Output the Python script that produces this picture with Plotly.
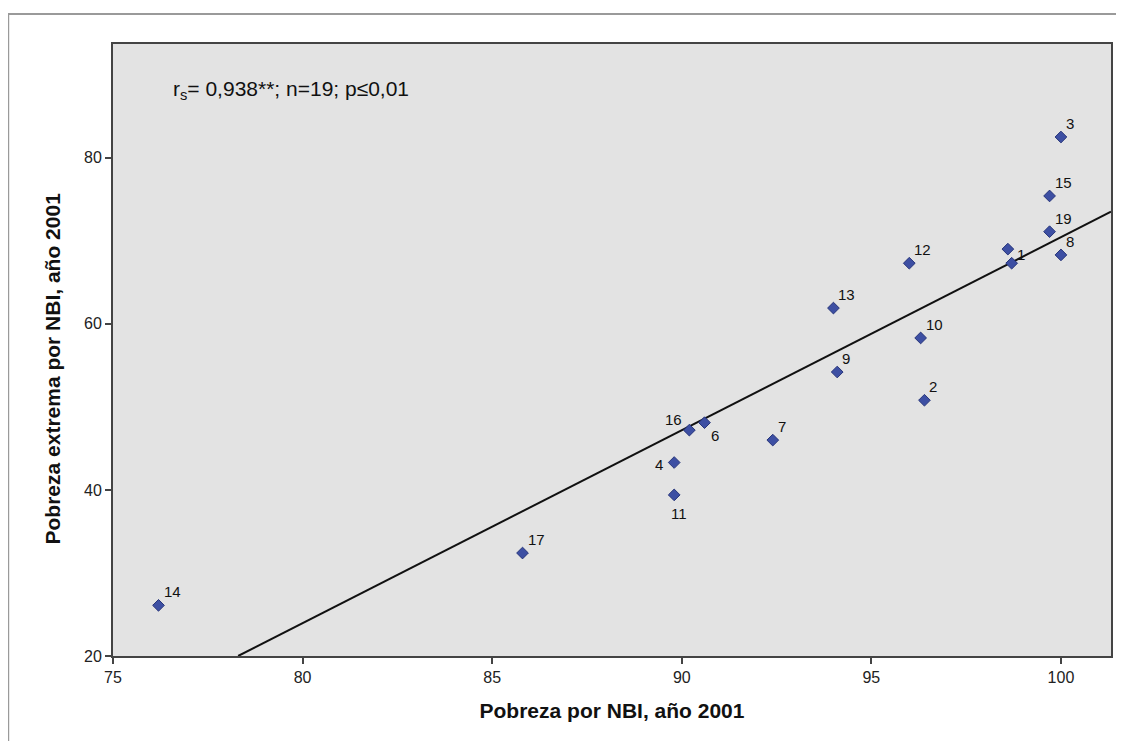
import plotly.graph_objects as go

# Data
ids = ["14", "17", "11", "4", "16", "6", "7", "9", "13", "12", "10", "2", "", "1", "19", "15", "3", "8"]
pobreza_nbi = [76.2, 85.8, 89.8, 89.8, 90.2, 90.6, 92.4, 94.1, 94.0, 96.0, 96.3, 96.4, 98.6, 98.7, 99.7, 99.7, 100.0, 100.0]
pobreza_extrema = [26.1, 32.4, 39.4, 43.3, 47.2, 48.1, 46.0, 54.2, 61.9, 67.3, 58.3, 50.8, 69.0, 67.3, 71.1, 75.4, 82.5, 68.3]

# Fit line
fit_x = [78.3, 101.32]
fit_y = [20.0, 73.5]

x_ticks = [75, 80, 85, 90, 95, 100]
y_ticks = [20, 40, 60, 80]

x_title = "Pobreza por NBI, año 2001"
y_title = "Pobreza extrema por NBI, año 2001"

# label placement per point: (xanchor, yanchor, xshift, yshift)
label_pos = {
    "16": ("right", "bottom", -5, 0),
    "6": ("left", "top", 4, -2),
    "4": ("right", "middle", -9, -2),
    "11": ("center", "top", 5, -8),
    "1": ("left", "bottom", 3, -2),
}

fig = go.Figure()
fig.add_trace(go.Scatter(
    x=fit_x, y=fit_y, mode="lines",
    line=dict(color="#111111", width=2), hoverinfo="skip", showlegend=False,
))
fig.add_trace(go.Scatter(
    x=pobreza_nbi, y=pobreza_extrema, mode="markers",
    marker=dict(symbol="diamond", size=9, color="#3D4FA3",
                line=dict(color="#27357A", width=1)),
    showlegend=False,
))

font_family = "Liberation Sans, Arial, sans-serif"
for lab, xv, yv in zip(ids, pobreza_nbi, pobreza_extrema):
    if not lab:
        continue
    xa, ya, xs, ys = label_pos.get(lab, ("left", "bottom", 3, 3))
    fig.add_annotation(x=xv, y=yv, text=lab, showarrow=False,
                       xanchor=xa, yanchor=ya, xshift=xs, yshift=ys,
                       font=dict(family=font_family, size=15, color="#111111"))

fig.add_annotation(x=0.058, y=0.925, xref="paper", yref="paper",
                   text="r<sub>s</sub>= 0,938**; n=19; p≤0,01", showarrow=False,
                   xanchor="left", yanchor="middle",
                   font=dict(family=font_family, size=21, color="#111111"))

# y-axis title as a rotated annotation (slightly below centre as in reference)
fig.add_annotation(x=-0.061, y=0.47, xref="paper", yref="paper",
                   text="<b>" + y_title + "</b>", showarrow=False, textangle=-90,
                   xanchor="center", yanchor="middle",
                   font=dict(family=font_family, size=21, color="#111111"))

# outer border
fig.add_shape(type="rect", xref="paper", yref="paper",
              x0=-0.105, x1=1.03, y0=-0.3, y1=1.049,
              line=dict(color="#9A9A9A", width=2), fillcolor="rgba(0,0,0,0)", layer="below")

axis_common = dict(
    showgrid=False, zeroline=False, showline=True, linecolor="#444444", linewidth=2,
    mirror=True, ticks="outside", ticklen=6, tickwidth=2, tickcolor="#444444",
    tickfont=dict(family=font_family, size=16, color="#222222"),
)

# The page body adds an 8px margin, so the figure is drawn 8px smaller
fig.update_layout(
    width=1108, height=733,
    margin=dict(l=105, r=3, t=36, b=85),
    paper_bgcolor="white", plot_bgcolor="#E3E3E3",
    xaxis=dict(range=[75, 101.32], tickvals=x_ticks, **axis_common,
               title=dict(text="<b>" + x_title + "</b>", standoff=18,
                          font=dict(family=font_family, size=21, color="#111111"))),
    yaxis=dict(range=[20, 93.7], tickvals=y_ticks, **axis_common),
)

fig.write_html("out.html")
